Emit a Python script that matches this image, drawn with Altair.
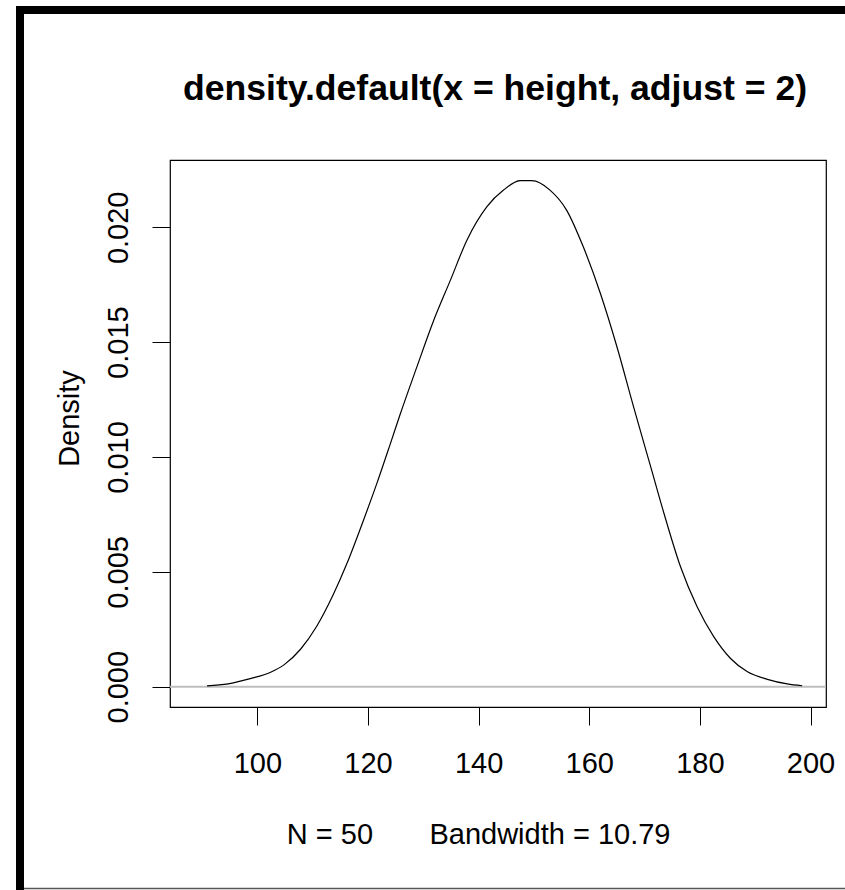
import altair as alt
import pandas as pd

# Kernel density estimate of height (adjust = 2), sampled along the curve
height_x = [90.9, 94.7, 98.7, 102.4, 104.8, 107.8, 110.7, 113.7, 116.2, 119.2,
            121.6, 124.0, 125.8, 128.8, 131.8, 134.9, 137.9, 141.5, 144.5, 147.5,
            149.6, 152.9, 155.9, 158.9, 162.0, 165.0, 168.0, 171.1, 173.5, 176.5,
            179.5, 182.5, 185.5, 188.6, 192.2, 195.8, 198.5]
density = [0.00004, 0.00012, 0.00035, 0.00063, 0.00095, 0.00163, 0.00262, 0.00400,
           0.00537, 0.00726, 0.00885, 0.01055, 0.01185, 0.01390, 0.01590, 0.01770,
           0.01945, 0.02090, 0.02162, 0.02203, 0.02203, 0.02162, 0.02075, 0.01916,
           0.01713, 0.01480, 0.01219, 0.00958, 0.00755, 0.00522, 0.00348, 0.00218,
           0.00124, 0.00065, 0.00032, 0.00012, 0.00004]

x_ticks = [100, 120, 140, 160, 180, 200]
y_ticks = [0.000, 0.005, 0.010, 0.015, 0.020]
x_domain = [84.2, 202.8]
y_domain = [-0.000884, 0.02293]

main_title = "density.default(x = height, adjust = 2)"
x_title = "N = 50" + "\u00a0" * 7 + "Bandwidth = 10.79"
y_title = "Density"

FONT = "Liberation Sans"
PLOT_W, PLOT_H = 656, 547

df = pd.DataFrame({"x": height_x, "y": density})

x_enc = alt.X(
    "x:Q",
    scale=alt.Scale(domain=x_domain, nice=False, zero=False),
    axis=alt.Axis(
        values=x_ticks, format="d", grid=False, domain=False,
        tickSize=18, tickColor="black", tickWidth=1,
        labelFont=FONT, labelFontSize=29, labelColor="black",
        labelBaseline="alphabetic", labelPadding=47,
        title=x_title, titleFont=FONT, titleFontSize=29, titleFontWeight="normal",
        titleColor="black", titleBaseline="alphabetic", titleAlign="right",
        titleAnchor="end", titleX=500, titleY=136.5,
    ),
)
y_enc = alt.Y(
    "y:Q",
    scale=alt.Scale(domain=y_domain, nice=False, zero=False),
    axis=alt.Axis(
        values=y_ticks, format=".3f", grid=False, domain=False,
        tickSize=18, tickColor="black", tickWidth=1,
        labelFont=FONT, labelFontSize=29, labelColor="black",
        labelAngle=270, labelAlign="center", labelBaseline="alphabetic",
        labelPadding=25,
        title=y_title, titleFont=FONT, titleFontSize=29, titleFontWeight="normal",
        titleColor="black", titleAngle=270, titleAlign="center",
        titleBaseline="alphabetic", titleX=-92, titleY=258,
    ),
)

curve = alt.Chart(df).mark_line(
    color="black", strokeWidth=1.2, interpolate="monotone"
).encode(x=x_enc, y=y_enc)

zero_line = alt.Chart(pd.DataFrame({"y": [0.0]})).mark_rule(
    color="#bebebe", strokeWidth=2
).encode(y=alt.Y("y:Q"))

one = alt.Data(values=[{}])

# main title, centred over the plot region
title_text = alt.Chart(one).mark_text(
    text=main_title, font=FONT, fontSize=35.6, fontWeight="bold", color="black",
    align="center", baseline="alphabetic",
).encode(x=alt.value(PLOT_W / 2 - 3), y=alt.value(-60))

# window frame edges around the figure
left_edge = alt.Chart(one).mark_rule(color="black", strokeWidth=8, strokeCap="butt").encode(
    x=alt.value(-150), y=alt.value(-154), y2=alt.value(730)
)
top_edge = alt.Chart(one).mark_rule(color="black", strokeWidth=8, strokeCap="butt").encode(
    y=alt.value(-150), x=alt.value(-154), x2=alt.value(675)
)
bottom_edge = alt.Chart(one).mark_rule(color="#555555", strokeWidth=1.5).encode(
    y=alt.value(728.5), x=alt.value(-146), x2=alt.value(675)
)

chart = alt.layer(
    zero_line, curve, title_text, left_edge, top_edge, bottom_edge
).properties(
    width=PLOT_W,
    height=PLOT_H,
    autosize="none",
    padding={"left": 170, "top": 160, "right": 19, "bottom": 183},
).configure_view(stroke="black", strokeWidth=1.2)

chart.save("out.html", embed_options={"renderer": "svg", "actions": False})
